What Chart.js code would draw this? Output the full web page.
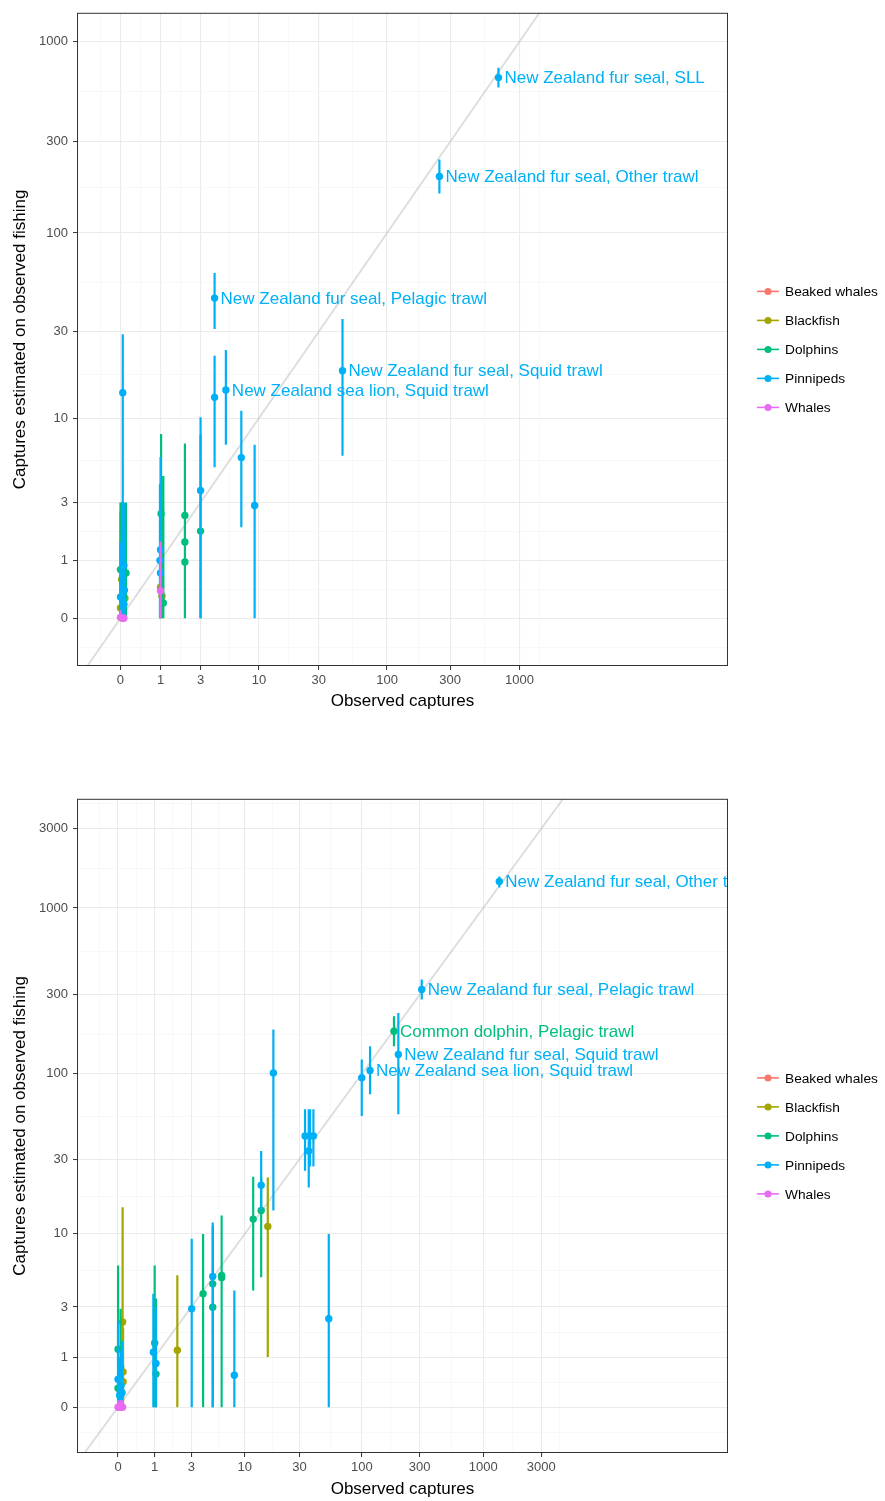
<!DOCTYPE html>
<html><head><meta charset="utf-8">
<script src="https://cdn.jsdelivr.net/npm/chart.js@4.4.1/dist/chart.umd.min.js"></script>
<style>
html,body{margin:0;padding:0;background:#fff;overflow:hidden;width:885px;height:1501px;}
canvas{position:absolute;left:0;}
#c1{top:0}
#c2{top:786px}
</style></head><body>
<canvas id="c1" width="885" height="720"></canvas>
<canvas id="c2" width="885" height="715"></canvas>
<script>
// ---------------- data ----------------
const groups = ['Beaked whales','Blackfish','Dolphins','Pinnipeds','Whales'];
const groupColours = ['#F8766D','#A3A500','#00BF7D','#00B0F6','#E76BF3'];

const xTicksA = [0,1,3,10,30,100,300,1000];
const yTicksA = [0,1,3,10,30,100,300,1000];
const xTicksB = [0,1,3,10,30,100,300,1000,3000];
const yTicksB = [0,1,3,10,30,100,300,1000,3000];

// Panel A (top)
const groupA = ['Beaked whales',
  'Blackfish','Blackfish','Blackfish','Blackfish','Blackfish','Blackfish',
  'Dolphins','Dolphins','Dolphins','Dolphins','Dolphins','Dolphins','Dolphins','Dolphins',
  'Pinnipeds','Pinnipeds','Pinnipeds','Pinnipeds','Pinnipeds','Pinnipeds','Pinnipeds','Pinnipeds','Pinnipeds',
  'Pinnipeds','Pinnipeds','Pinnipeds','Pinnipeds','Pinnipeds','Pinnipeds','Pinnipeds','Pinnipeds',
  'Whales','Whales','Whales'];
const obsA = [0.03,
  0.02,0.08,0.0,0.05,1.0,1.05,
  0.0,0.1,1.02,1.1,2.05,2.05,2.05,3.0,
  0.04,0.06,0.07,0.0,0.06,1.0,0.98,1.0,3.0,
  4.1,4.1,5.2,7.1,9.2,45.7,249,694,
  0.0,0.06,1.0];
const estA = [0,
  0.59,0.27,0.13,0.42,0.45,0.30,
  0.79,0.72,2.5,0.2,2.42,1.49,0.96,1.84,
  13.9,0.88,0.40,0.29,0.18,1.27,1.0,0.72,3.62,
  13.1,45.3,14.4,5.85,2.86,18.4,198,649,
  0.01,0.0,0.39];
const loA = [0,
  0,0,0,0,0,0,
  0,0,0,0,0,0,0,0,
  0,0,0,0,0,0,0,0,0,
  5.1,31,7.0,1.97,0,6.0,161,576,
  0,0,0];
const hiA = [0.2,
  3.0,2.9,2.6,3.0,3.0,2.8,
  3.0,3.0,8.1,4.5,7.1,6.0,5.0,8.0,
  29,3.0,2.0,1.5,1.2,5.9,4.0,3.5,10.1,
  22.2,61.5,23.9,11,7.0,35,243,731,
  0.1,0.05,1.5];
const labelA = ['',
  '','','','','','',
  '','','','','','','','',
  '','','','','','','','','',
  '','New Zealand fur seal, Pelagic trawl','New Zealand sea lion, Squid trawl','','','New Zealand fur seal, Squid trawl','New Zealand fur seal, Other trawl','New Zealand fur seal, SLL',
  '','',''];

// Panel B (bottom)
const groupB = ['Beaked whales',
  'Blackfish','Blackfish','Blackfish','Blackfish','Blackfish',
  'Dolphins','Dolphins','Dolphins','Dolphins','Dolphins','Dolphins','Dolphins','Dolphins','Dolphins','Dolphins','Dolphins','Dolphins','Dolphins',
  'Pinnipeds','Pinnipeds','Pinnipeds','Pinnipeds','Pinnipeds','Pinnipeds','Pinnipeds','Pinnipeds','Pinnipeds','Pinnipeds','Pinnipeds',
  'Pinnipeds','Pinnipeds','Pinnipeds','Pinnipeds','Pinnipeds','Pinnipeds','Pinnipeds','Pinnipeds','Pinnipeds','Pinnipeds',
  'Whales','Whales','Whales'];
const obsB = [0.03,
  0.09,0.1,0.1,2.07,16,
  0.0,0.05,0.0,1.0,1.05,4.0,5.0,5.0,6.1,6.1,11.9,14,184,
  0.0,0.03,0.08,0.06,0.95,1.05,3.03,5.0,8.03,14,17.9,
  33.4,36.8,39.3,35.9,52.9,99.6,116.7,200,312,1357,
  0.0,0.05,0.09];
const estB = [0,
  2.25,0.63,0.42,1.2,11.2,
  1.23,0.75,0.30,1.43,0.58,3.8,4.51,2.99,5.2,5.0,12.5,14.2,181,
  0.47,0.18,0.22,0.35,1.14,0.83,2.91,5.1,0.555,20.6,101,
  41.7,41.7,41.7,33.7,2.4,94.5,104.8,131,323,1443,
  0,0,0];
const loB = [0,
  0,0,0,0,1.0,
  0,0,0,0,0,0,0,0,0,0,4.03,5.04,147,
  0,0,0,0,0,0,0,0,0,14.2,14.2,
  25.4,27,27,19.9,0,55.3,75,56.7,281,1330,
  0,0,0];
const hiB = [0.2,
  14.9,2.0,1.5,5.2,23,
  6.1,2.9,1.8,6.1,3.5,10,11.3,10,13.2,12,23.3,23.2,223,
  2.3,1.0,1.5,1.2,3.8,3.0,9.27,11.9,4.03,33.7,185,
  60.8,60.8,60.8,60.8,10,122,147,233,371,1550,
  0.1,0.1,0.1];
const labelB = ['',
  '','','','','',
  '','','','','','','','','','','','','Common dolphin, Pelagic trawl',
  '','','','','','','','','','','',
  '','','','','','','New Zealand sea lion, Squid trawl','New Zealand fur seal, Squid trawl','New Zealand fur seal, Pelagic trawl','New Zealand fur seal, Other trawl',
  '','',''];

// ---------------- custom log(x+1) scale ----------------
const T = v => Math.log10(v + 1);
const TI = u => Math.pow(10, u) - 1;
const scaleBreaks = {};
class Log1pScale extends Chart.LinearScale {
  buildTicks() {
    const majors = (scaleBreaks[this.chart.canvas.id] || {})[this.id] || [];
    const ticks = majors.map(v => ({value: v, minor: false}));
    const tm = majors.map(T);
    if (tm.length > 1) {
      const bd = tm[1] - tm[0];
      const ext = [tm[0] - bd].concat(tm, [tm[tm.length - 1] + bd]);
      for (let i = 0; i < ext.length - 1; i++) {
        const v = TI((ext[i] + ext[i + 1]) / 2);
        if (v > this.min && v < this.max) ticks.push({value: v, minor: true});
      }
    }
    ticks.sort((a, b) => a.value - b.value);
    return ticks;
  }
  configure() {
    super.configure();
    this._tmin = T(this.min);
    this._tmax = T(this.max);
  }
  getPixelForValue(value) {
    if (value === null || value === undefined || isNaN(value)) return NaN;
    return this.getPixelForDecimal((T(value) - this._tmin) / (this._tmax - this._tmin));
  }
  getValueForPixel(pixel) {
    return TI(this._tmin + this.getDecimalForPixel(pixel) * (this._tmax - this._tmin));
  }
}
Log1pScale.id = 'log1p';
Chart.register(Log1pScale);

Chart.defaults.font.family = "'Liberation Sans', Arial, Helvetica, sans-serif";
Chart.defaults.color = '#4d4d4d';

function axis(pos, min, max, title, size, titlePad, tickPad) {
  const isX = pos === 'bottom';
  return {
    type: 'log1p', position: pos, min: min, max: max,
    afterFit: s => { if (isX) s.height = size; else s.width = size; },
    border: {display: false},
    grid: {
      color: c => (c.tick && c.tick.minor) ? '#f4f4f4' : '#ebebeb',
      lineWidth: c => (c.tick && c.tick.minor) ? 0.6 : 1.1,
      tickColor: c => (c.tick && c.tick.minor) ? 'rgba(0,0,0,0)' : '#333333',
      tickLength: 4, tickWidth: 1
    },
    ticks: {
      autoSkip: false, maxRotation: 0, minRotation: 0, padding: tickPad,
      color: '#4d4d4d', font: {size: 13},
      callback: (v, i, t) => t[i].minor ? '' : String(v)
    },
    title: {display: true, text: title, color: '#000', font: {size: 17}, padding: titlePad}
  };
}

function buildChart(id, grp, obs, est, lo, hi, lab, xb, yb, xr, yr, xAxisH, xTitlePad) {
  scaleBreaks[id] = {x: xb, y: yb};
  const datasets = [];
  let order = 1000;
  datasets.push({
    type: 'line', data: [{x: -0.65, y: -0.65}, {x: 1e6, y: 1e6}],
    borderColor: 'rgba(185,185,185,0.5)', borderWidth: 1.8, pointRadius: 0, order: order--
  });
  groups.forEach((g, gi) => {
    const col = groupColours[gi];
    const seg = [], pts = [];
    for (let i = 0; i < grp.length; i++) {
      if (grp[i] !== g) continue;
      seg.push({x: obs[i], y: lo[i]}, {x: obs[i], y: hi[i]}, {x: obs[i], y: null});
      pts.push({x: obs[i], y: est[i]});
    }
    datasets.push({type: 'line', data: seg, borderColor: col, borderWidth: 2.2, pointRadius: 0,
      spanGaps: false, order: order--});
    datasets.push({type: 'scatter', label: g, data: pts, backgroundColor: col, pointBackgroundColor: col,
      pointRadius: 3.7, pointBorderWidth: 0, pointHoverRadius: 3.7, order: order--});
  });

  const labelPlugin = {
    id: 'ptLabels',
    afterDatasetsDraw(chart) {
      const {ctx, chartArea: ca, scales} = chart;
      ctx.save();
      ctx.beginPath(); ctx.rect(ca.left, ca.top, ca.right - ca.left, ca.bottom - ca.top); ctx.clip();
      ctx.font = "17px 'Liberation Sans', Arial, sans-serif";
      ctx.textBaseline = 'middle'; ctx.textAlign = 'left';
      for (let i = 0; i < lab.length; i++) {
        if (!lab[i]) continue;
        ctx.fillStyle = groupColours[groups.indexOf(grp[i])];
        ctx.fillText(lab[i], scales.x.getPixelForValue(obs[i]) + 6, scales.y.getPixelForValue(est[i]) + 1);
      }
      ctx.restore();
    }
  };
  const framePlugin = {
    id: 'frameLegend',
    afterDraw(chart) {
      const {ctx, chartArea: ca} = chart;
      ctx.save();
      ctx.strokeStyle = '#333333'; ctx.lineWidth = 1;
      ctx.strokeRect(ca.left + 0.5, ca.top + 0.5, ca.right - ca.left - 1, ca.bottom - ca.top - 1);
      const cy = (ca.top + ca.bottom) / 2 + 10;
      ctx.font = "13.7px 'Liberation Sans', Arial, sans-serif";
      ctx.textBaseline = 'middle'; ctx.textAlign = 'left';
      groups.forEach((g, i) => {
        const y = cy + (i - 2) * 29;
        ctx.strokeStyle = groupColours[i]; ctx.lineWidth = 1.6;
        ctx.beginPath(); ctx.moveTo(ca.right + 29, y); ctx.lineTo(ca.right + 51, y); ctx.stroke();
        ctx.fillStyle = groupColours[i];
        ctx.beginPath(); ctx.arc(ca.right + 40, y, 3.5, 0, Math.PI * 2); ctx.fill();
        ctx.fillStyle = '#000';
        ctx.fillText(g, ca.right + 57, y + 1);
      });
      ctx.restore();
    }
  };

  return new Chart(document.getElementById(id), {
    type: 'scatter',
    data: {datasets: datasets},
    options: {
      responsive: false, animation: false, devicePixelRatio: 1,
      layout: {padding: {top: 11, right: 157, left: 0, bottom: 0}},
      plugins: {legend: {display: false}, tooltip: {enabled: false}},
      scales: {
        x: axis('bottom', xr[0], xr[1], 'Observed captures', xAxisH, {top: 2, bottom: xTitlePad}, 3),
        y: axis('left', yr[0], yr[1], 'Captures estimated on observed fishing', 77, {top: 10, bottom: 0}, 5)
      }
    },
    plugins: [labelPlugin, framePlugin]
  });
}

buildChart('c1', groupA, obsA, estA, loA, hiA, labelA, xTicksA, yTicksA, [-0.529, 36980], [-0.436, 1412], 54, 8.8);
buildChart('c2', groupB, obsB, estB, loB, hiB, labelB, xTicksB, yTicksB, [-0.54, 102800], [-0.47, 4540], 48, 1.8);
</script>
</body></html>
